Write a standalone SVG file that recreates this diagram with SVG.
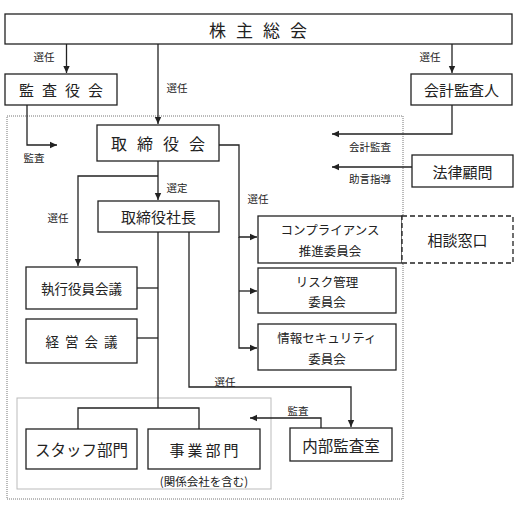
<svg xmlns="http://www.w3.org/2000/svg" width="517" height="513" viewBox="0 0 517 513">
<style>
text{font-family:"Noto Sans CJK JP","Noto Sans CJK SC",sans-serif;fill:#222;text-anchor:middle;dominant-baseline:central}
.box{fill:#fff;stroke:#222;stroke-width:1.3}
.dash{fill:#fff;stroke:#222;stroke-width:1.3;stroke-dasharray:5,3}
.ln{fill:none;stroke:#222;stroke-width:1.3}
.lab{font-size:10.5px}
.s15{font-size:15px}
.s13{font-size:12.5px}
</style>
<defs>
<marker id="ah" markerWidth="8" markerHeight="8" refX="7" refY="4" orient="auto" markerUnits="userSpaceOnUse">
<path d="M0,0.8 L7,4 L0,7.2 Z" fill="#222"/>
</marker>
</defs>
<rect x="7" y="116" width="396" height="383" fill="none" stroke="#777" stroke-width="1" stroke-dasharray="1,1"/>
<rect x="17" y="398" width="254" height="91" fill="none" stroke="#bbb" stroke-width="1"/>
<g id="connectors">
<path class="ln" d="M66.5,44 V73" marker-end="url(#ah)"/>
<path class="ln" d="M158,44 V124" marker-end="url(#ah)"/>
<path class="ln" d="M452,44 V73" marker-end="url(#ah)"/>
<path class="ln" d="M27,105 V145 H57" marker-end="url(#ah)"/>
<path class="ln" d="M452,105 V134 H332" marker-end="url(#ah)"/>
<path class="ln" d="M412,167 H332" marker-end="url(#ah)"/>
<path class="ln" d="M158,161 V200" marker-end="url(#ah)"/>
<path class="ln" d="M158,176 H78 V266" marker-end="url(#ah)"/>
<path class="ln" d="M219,145 H239 V237 H257" marker-end="url(#ah)"/>
<path class="ln" d="M239,237 V348 H257" marker-end="url(#ah)"/>
<path class="ln" d="M239,291 H257" marker-end="url(#ah)"/>
<path class="ln" d="M158,232 V408"/>
<path class="ln" d="M137,288 H158"/>
<path class="ln" d="M137,338 H158"/>
<path class="ln" d="M78,429 V408 H199 V429"/>
<path class="ln" d="M189,232 V387 H351 V427" marker-end="url(#ah)"/>
<path class="ln" d="M321,428 V418 H250" marker-end="url(#ah)"/>
</g>
<g id="labels">
<text class="lab" x="44" y="56">選任</text>
<text class="lab" x="177" y="87">選任</text>
<text class="lab" x="430" y="56">選任</text>
<text class="lab" x="34" y="157">監査</text>
<text class="lab" x="370" y="146">会計監査</text>
<text class="lab" x="370" y="178">助言指導</text>
<text class="lab" x="177" y="187">選定</text>
<text class="lab" x="58" y="217">選任</text>
<text class="lab" x="258" y="198">選任</text>
<text class="lab" x="225" y="381">選任</text>
<text class="lab" x="298" y="410">監査</text>
</g>
<g id="n-kabunushi">
<rect class="box" x="5" y="14" width="507" height="30"/>
<text x="263" y="29" font-size="17" letter-spacing="10">株主総会</text>
</g>
<g id="n-kansayakukai">
<rect class="box" x="5" y="74" width="112" height="31"/>
<text class="s15" x="65" y="89.5" letter-spacing="8">監査役会</text>
</g>
<g id="n-kaikeikansanin">
<rect class="box" x="411" y="74" width="101" height="31"/>
<text class="s15" x="461.5" y="89.5">会計監査人</text>
</g>
<g id="n-torishimariyakukai">
<rect class="box" x="97" y="125" width="122" height="36"/>
<text x="163" y="143" font-size="16" letter-spacing="10">取締役会</text>
</g>
<g id="n-houritsukomon">
<rect class="box" x="412" y="155" width="101" height="32"/>
<text class="s15" x="462.5" y="171">法律顧問</text>
</g>
<g id="n-shacho">
<rect class="box" x="98" y="201" width="121" height="31"/>
<text class="s15" x="158.5" y="216.5">取締役社長</text>
</g>
<g id="n-compliance">
<rect class="box" x="258" y="216" width="144" height="47"/>
<text class="s13" x="330" y="229">コンプライアンス</text>
<text class="s13" x="330" y="250">推進委員会</text>
</g>
<g id="n-soudan">
<rect class="dash" x="402" y="216" width="111" height="47"/>
<text class="s15" x="457.5" y="239.5">相談窓口</text>
</g>
<g id="n-risk">
<rect class="box" x="258" y="268" width="138" height="45"/>
<text class="s13" x="327" y="281">リスク管理</text>
<text class="s13" x="327" y="301">委員会</text>
</g>
<g id="n-security">
<rect class="box" x="258" y="324" width="138" height="46"/>
<text class="s13" x="327" y="337">情報セキュリティ</text>
<text class="s13" x="327" y="358">委員会</text>
</g>
<g id="n-shikkou">
<rect class="box" x="26" y="267" width="111" height="42"/>
<text x="81.5" y="288" font-size="13.5">執行役員会議</text>
</g>
<g id="n-keiei">
<rect class="box" x="26" y="319" width="111" height="44"/>
<text x="84.5" y="341" font-size="13.5" letter-spacing="6">経営会議</text>
</g>
<g id="n-staff">
<rect class="box" x="26" y="429" width="111" height="40"/>
<text x="81.5" y="449" font-size="15.5">スタッフ部門</text>
</g>
<g id="n-jigyou">
<rect class="box" x="148" y="429" width="112" height="40"/>
<text x="205.5" y="449" font-size="15" letter-spacing="3">事業部門</text>
<text x="204" y="481" font-size="11.5">(関係会社を含む)</text>
</g>
<g id="n-naibukansa">
<rect class="box" x="290" y="428" width="102" height="33"/>
<text x="341" y="444.5" font-size="15.5">内部監査室</text>
</g>
</svg>
